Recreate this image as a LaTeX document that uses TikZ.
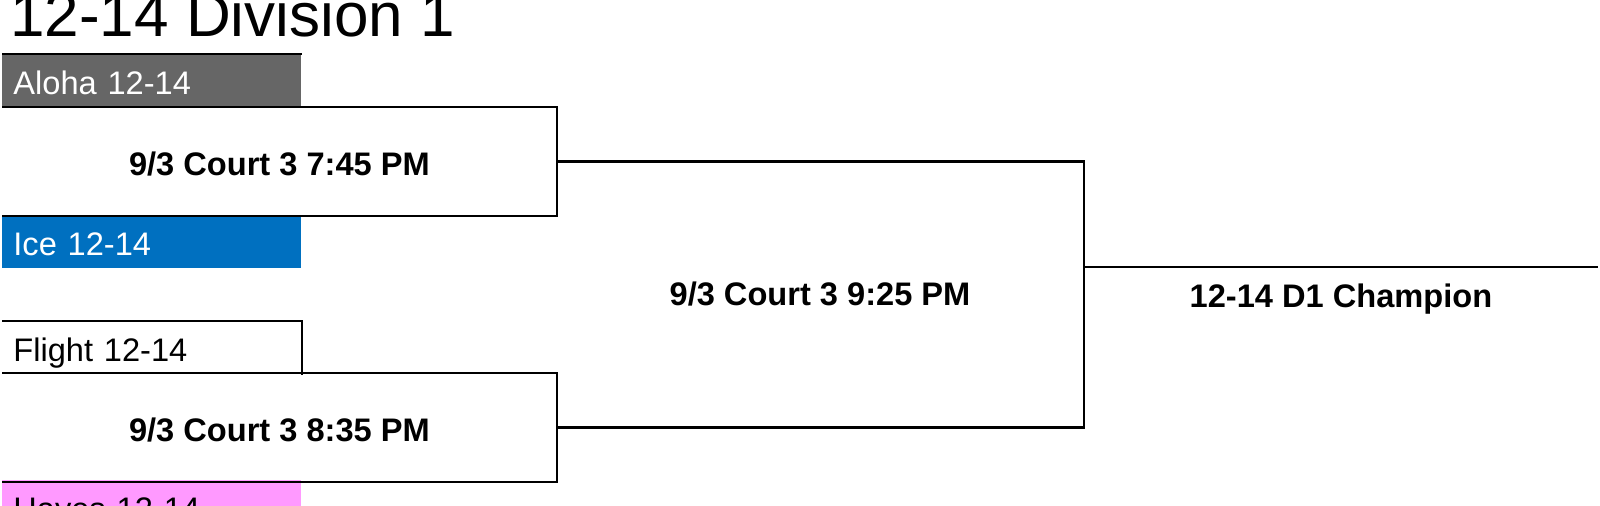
\documentclass[tikz,border=0pt]{standalone}
\usepackage{fontspec}
\setmainfont{Liberation Sans}
\usepackage{xcolor}
\definecolor{alohagray}{HTML}{666666}
\definecolor{iceblue}{HTML}{0070C0}
\definecolor{hayespink}{HTML}{FF99FF}
\tikzstyle{team} = [rectangle, anchor=north west, text width=138.5pt, align=left, minimum height=26.5pt, inner xsep=5.5pt, inner ysep=0pt, text height=13.5pt, text depth=0pt, font=\fontsize{16.3}{18}\selectfont]
\tikzstyle{game} = [rectangle, anchor=north west, minimum width=277pt, minimum height=54pt, inner sep=0pt, text height=14pt, text depth=0pt, font=\fontsize{16.3}{18}\selectfont\bfseries]
\tikzstyle{label} = [anchor=base, inner sep=0pt, font=\fontsize{16.3}{18}\selectfont\bfseries]
\tikzstyle{line} = [line width=1.2pt, black]

\begin{document}
\begin{tikzpicture}[x=0.5pt, y=-0.5pt]
\useasboundingbox (0,0) rectangle (1600,505);
\node (title) [anchor=base west, inner sep=0pt, font=\fontsize{31}{36}\selectfont] at (10,36) {12-14 Division 1};

\node (aloha) [team, fill=alohagray, text=white] at (2,54) {Aloha 12-14};
\node (g1) [game] at (2,107) {9/3 Court 3 7:45 PM};
\node (ice) [team, fill=iceblue, text=white] at (2,215) {Ice 12-14};
\node (flight) [team] at (2,321) {Flight 12-14};
\node (g2) [game] at (2,373) {9/3 Court 3 8:35 PM};
\node (hayes) [team, fill=hayespink] at (2,480) {Hayes 12-14};

\node (fin) [label] at (820,305) {9/3 Court 3 9:25 PM};
\node (champ) [label] at (1341,307) {12-14 D1 Champion};
\coordinate (jn) at (1084,267);
\coordinate (ce) at (1598,267);

\draw [line] (aloha.north west) -- (aloha.north east);
\draw [line] (flight.north west) -- (flight.north east) -- (flight.south east);
\draw [line] (g1.north west) -- (g1.north east) -- (g1.south east) -- (g1.south west);
\draw [line] (g2.north west) -- (g2.north east) -- (g2.south east) -- (g2.south west);
\draw [line] (g1.east) -| (jn);
\draw [line] (g2.east) -| (jn);
\draw [line] (jn) -- (ce);
\end{tikzpicture}
\end{document}
